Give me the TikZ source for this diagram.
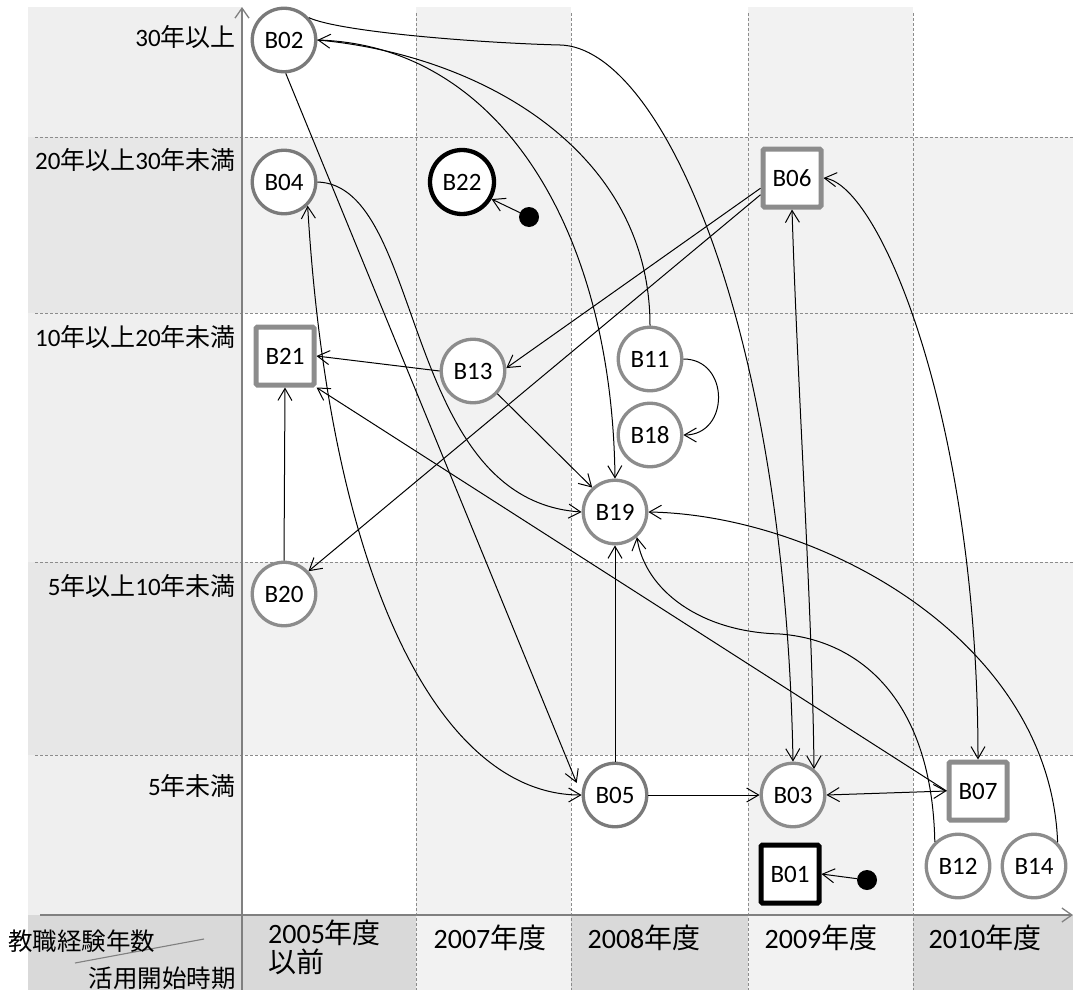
\documentclass[tikz,border=0pt]{standalone}
\usepackage{fontspec}
\setmainfont{Carlito}
\newfontfamily\cjk{Noto Sans CJK JP}
\usetikzlibrary{arrows.meta}
\definecolor{nodegray}{HTML}{8C8C8C}
\definecolor{nodegrayd}{HTML}{7A7A7A}
\definecolor{chartgray}{HTML}{F2F2F2}
\definecolor{labA}{HTML}{EFEFEF}
\definecolor{labB}{HTML}{E7E7E7}
\definecolor{botdark}{HTML}{D9D9D9}
\definecolor{gridgray}{HTML}{8C8C8C}
\definecolor{axisgray}{HTML}{808080}
\begin{document}
\begin{tikzpicture}[x=1pt,y=1pt,
  >={Straight Barb[length=12pt,width=14pt]},
  bnode/.style={fill=white,inner sep=0pt,font=\fontsize{25}{25}\selectfont},
  circ/.style={bnode,circle,draw=nodegray,line width=3.3pt,minimum size=63.5pt},
  sqr/.style={bnode,rectangle,draw=nodegray,line width=5pt,minimum size=58pt,rounded corners=1.5pt},
  dotn/.style={circle,fill=black,minimum size=20pt,inner sep=0pt},
  conn/.style={draw=black,line width=1pt,->},
  biconn/.style={draw=black,line width=1pt,<->},
  gridline/.style={draw=gridgray,line width=1pt,dash pattern=on 3pt off 2pt},
  axisline/.style={draw=axisgray,line width=1.3pt},
  rowlab/.style={anchor=east,inner sep=0pt,font=\fontsize{25}{25}\selectfont},
  collab/.style={inner sep=0pt,font=\fontsize{28}{29}\selectfont},
  cornerlab/.style={inner sep=0pt,font=\fontsize{24.5}{24.5}\selectfont\cjk},
]
\useasboundingbox (0,0) rectangle (1073,-990);
\fill[white] (0,0) rectangle (1073,-990);
% chart background
\fill[chartgray] (416,-7) rectangle (571,-915);
\fill[chartgray] (748,-7) rectangle (913,-915);
\fill[chartgray] (242,-137) rectangle (1073,-313);
\fill[chartgray] (242,-562) rectangle (1073,-755);
% left label column
\fill[labA] (28,-7) rectangle (242,-137);
\fill[labB] (28,-137) rectangle (242,-313);
\fill[labA] (28,-313) rectangle (242,-562);
\fill[labB] (28,-562) rectangle (242,-755);
\fill[labA] (28,-755) rectangle (242,-915);
% bottom row
\fill[botdark] (28,-915) rectangle (416,-990);
\fill[chartgray] (416,-915) rectangle (571,-990);
\fill[botdark] (571,-915) rectangle (748,-990);
\fill[chartgray] (748,-915) rectangle (913,-990);
\fill[botdark] (913,-915) rectangle (1073,-990);
% grid
\foreach \y in {137,313,562,755} \draw[gridline] (35,-\y) -- (1073,-\y);
\foreach \x in {416,571,748,913} \draw[gridline] (\x,-13) -- (\x,-990);
% axes
\draw[axisline,-{Straight Barb[length=10pt,width=14pt]}] (242,-990) -- (242,-7);
\draw[axisline,-{Straight Barb[length=10pt,width=14pt]}] (40,-915) -- (1073,-915);
\draw[axisgray,line width=1.1pt] (75,-963) -- (204,-939);

% row labels
\node[rowlab] (L1) at (236,-37) {30{\cjk 年以上}};
\node[rowlab] (L2) at (236,-160) {20{\cjk 年以上}30{\cjk 年未満}};
\node[rowlab] (L3) at (236,-337) {10{\cjk 年以上}20{\cjk 年未満}};
\node[rowlab] (L4) at (236,-586) {5{\cjk 年以上}10{\cjk 年未満}};
\node[rowlab] (L5) at (236,-786) {5{\cjk 年未満}};
% column labels
\node[collab,anchor=west,align=left] (C1) at (268,-947) {2005{\cjk 年度}\\{\cjk 以前}};
\node[collab] (C2) at (490,-938) {2007{\cjk 年度}};
\node[collab] (C3) at (644,-938) {2008{\cjk 年度}};
\node[collab] (C4) at (821,-938) {2009{\cjk 年度}};
\node[collab] (C5) at (985,-938) {2010{\cjk 年度}};
\node[cornerlab,anchor=west] (K1) at (8,-941) {教職経験年数};
\node[cornerlab,anchor=east] (K2) at (236,-978) {活用開始時期};

% nodes
\node[circ,draw=nodegrayd] (B02) at (284,-40) {B02};
\node[circ,draw=nodegrayd] (B04) at (284,-182) {B04};
\node[circ,draw=black,line width=4.3pt,minimum size=64pt] (B22) at (462,-182) {B22};
\node[sqr] (B06) at (792,-178) {B06};
\node[sqr] (B21) at (285,-356) {B21};
\node[circ] (B13) at (473,-371) {B13};
\node[circ] (B11) at (650,-359) {B11};
\node[circ] (B18) at (650,-435) {B18};
\node[circ] (B19) at (615,-512) {B19};
\node[circ] (B20) at (284,-594) {B20};
\node[circ,draw=nodegrayd] (B05) at (615,-795) {B05};
\node[circ] (B03) at (793,-795) {B03};
\node[sqr] (B07) at (978,-791) {B07};
\node[circ] (B12) at (958,-866) {B12};
\node[circ] (B14) at (1034,-866) {B14};
\node[sqr,draw=black] (B01) at (790,-874) {B01};
\node[dotn] (D22) at (529,-217) {};
\node[dotn] (D01) at (867,-880) {};

% connectors
\draw[conn,shorten >=13pt] (B02.-87) -- (B05.west);
\draw[biconn] (B05.west) .. controls (440,-795) and (330,-580) .. (B04.-45);
\draw[conn] (B04.east) .. controls (425,-185) and (400,-500) .. (B19.west);
\draw[conn] (B02.42) .. controls (340,-32) and (480,-43) .. (560,-45)
            .. controls (660,-47) and (785,-320) .. (B03.north);
\draw[conn] (B02.east) .. controls (500,-45) and (612,-230) .. (B19.north);
\draw[conn] (B11.north) .. controls (650,-150) and (480,-55) .. (B02.east);
\draw[conn] (B06.198) -- (B13.5);
\draw[conn] (B06.208) -- (B20.43);
\draw[biconn] (B03.51) .. controls (812,-600) and (798,-400) .. (B06.south);
\draw[biconn] (B06.east) .. controls (880,-185) and (978,-420) .. (B07.north);
\draw[conn] (B05.north) -- (B19.south);
\draw[conn] (B05.east) -- (B03.west);
\draw[biconn] (B07.west) -- (B03.east);
\draw[conn] (B07.west) -- (B21.south east);
\draw[conn] (B13.west) -- (B21.east);
\draw[conn] (B13.-43) -- (B19.133);
\draw[conn] (B20.north) -- (B21.south);
\draw[conn] (B11.east) .. controls (730,-359) and (730,-435) .. (B18.east);
\draw[conn] (B12.134) .. controls (932,-700) and (860,-640) .. (780,-634)
            .. controls (700,-632) and (645,-590) .. (B19.-49);
\draw[conn] (B14.45) .. controls (1050,-640) and (820,-515) .. (B19.east);
\draw[conn] (D22) -- (B22.-30);
\draw[conn] (D01) -- (B01.east);
\end{tikzpicture}
\end{document}
